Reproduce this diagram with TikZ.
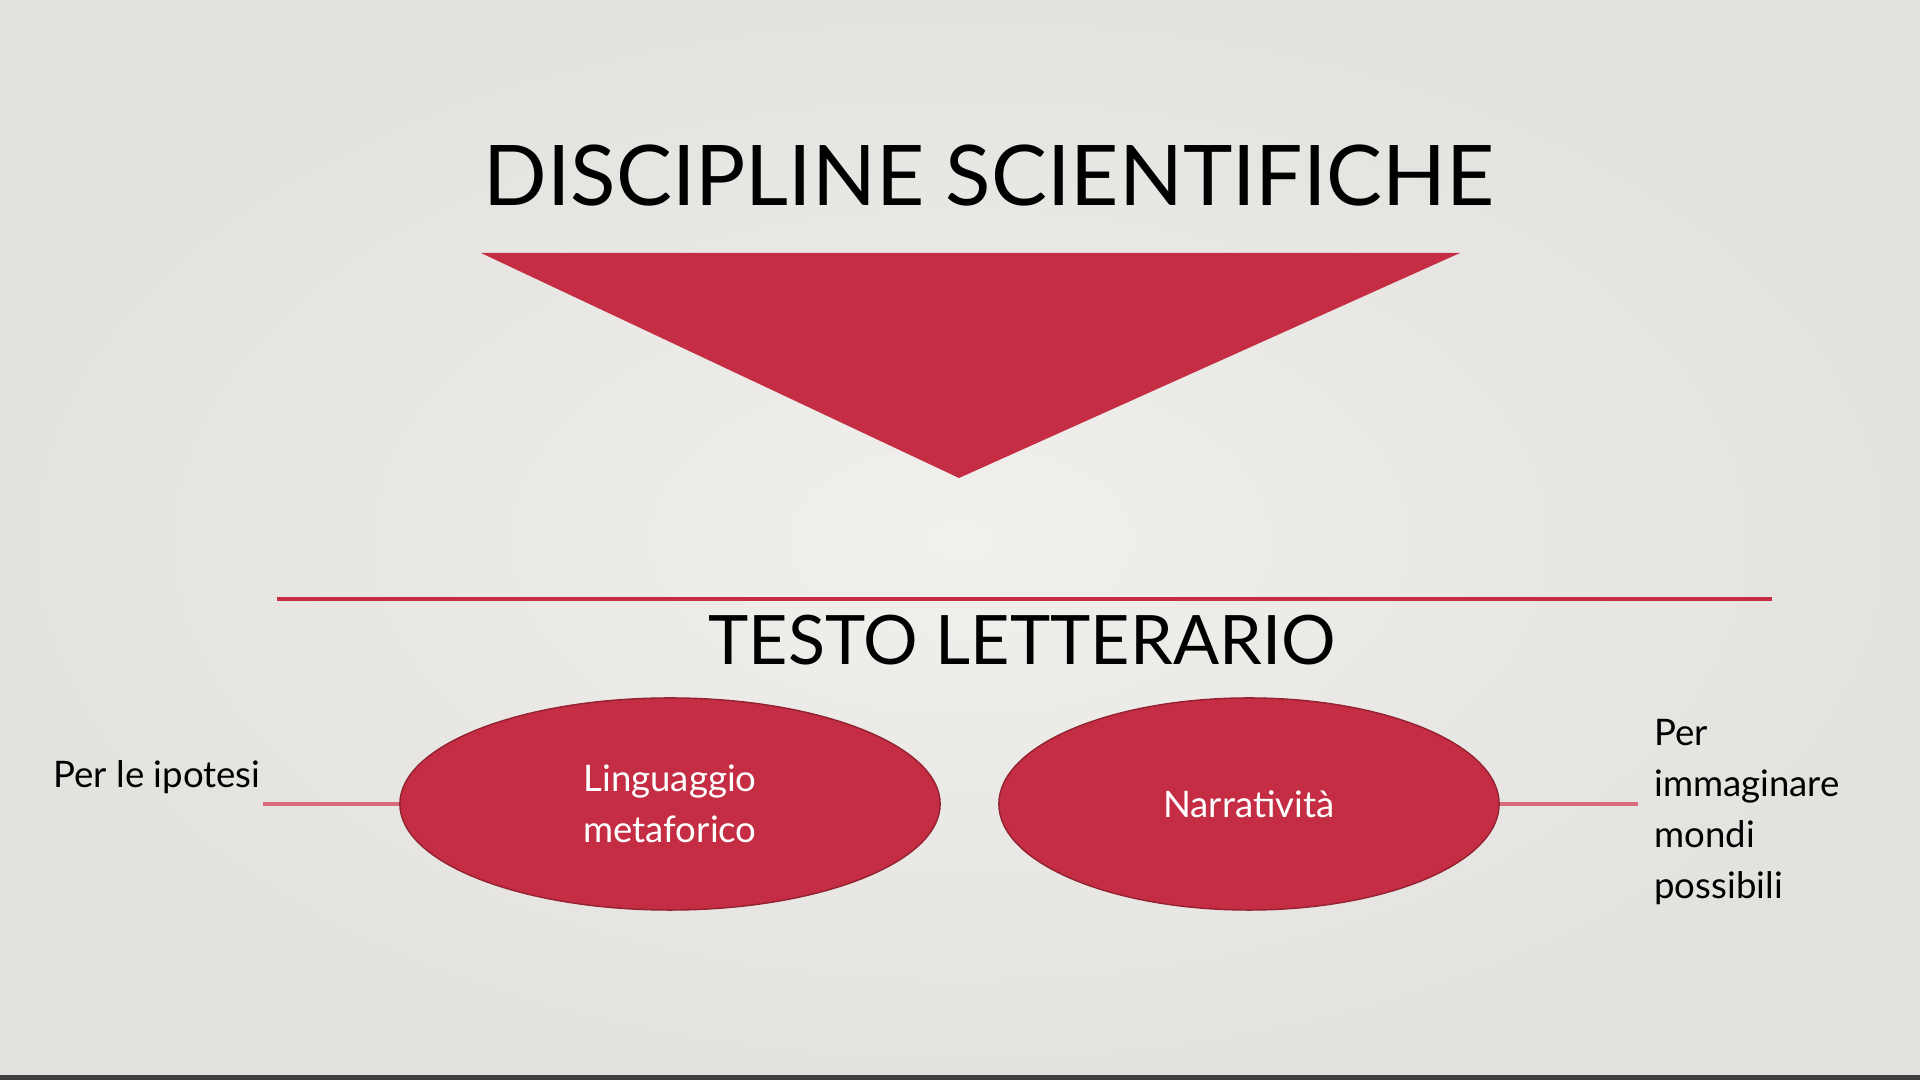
\documentclass[tikz,border=0pt]{standalone}
\usepackage{fontspec}
\setmainfont{Lato}
\usetikzlibrary{shapes.geometric,positioning}
\definecolor{slidered}{HTML}{C42D43}
\definecolor{slidebg}{HTML}{E4E2DE}
\definecolor{slidelight}{HTML}{F1F0ED}

\begin{document}
\begin{tikzpicture}[x=0.01cm,y=-0.01cm]
\tikzset{headline/.style={anchor=base,text=black}}
\tikzset{bubble/.style={ellipse,draw=slidered!75!black,fill=slidered,text=white,
  inner sep=0pt,minimum height=2.12cm,align=center,font=\fontsize{10.4}{14.5}\selectfont}}
\tikzset{note/.style={text=black,align=left,font=\fontsize{10.4}{14.5}\selectfont}}
\tikzset{link/.style={draw=slidered!70!white,line width=0.9pt}}
\useasboundingbox (0,0) rectangle (1920,1080);
% background
\shade[inner color=slidelight,outer color=slidebg] (0,0) rectangle (1920,1080);
\fill[black!75] (0,1075) rectangle (1920,1080);
% top part
\node[headline,font=\fontsize{23.8}{28}\selectfont] (disc) at (989,206) {DISCIPLINE SCIENTIFICHE};
\fill[slidered] (481,253) -- (1460,253) -- (959,478) -- cycle;
\draw[slidered,line width=1.4pt] (277,599) -- (1772,599);
\node[headline,font=\fontsize{19.4}{23}\selectfont] (testo) at (1022,665) {TESTO LETTERARIO};
% bubbles
\node[bubble,minimum width=5.4cm] (metaf) at (670,804) {Linguaggio\\metaforico};
\node[bubble,minimum width=5.0cm] (narr) at (1249,804) {Narratività};
\node[note,anchor=base west] (ipotesi) at (41,788) {Per le ipotesi};
\node[note,anchor=west] (mondi) at (1642,812) {Per\\immaginare\\mondi\\possibili};
\coordinate (lend) at (263,802);
\coordinate (rend) at (1638,802);
\draw[link] (metaf.west) -- (metaf.west -| lend);
\draw[link] (narr.east) -- (narr.east -| rend);
\end{tikzpicture}
\end{document}
